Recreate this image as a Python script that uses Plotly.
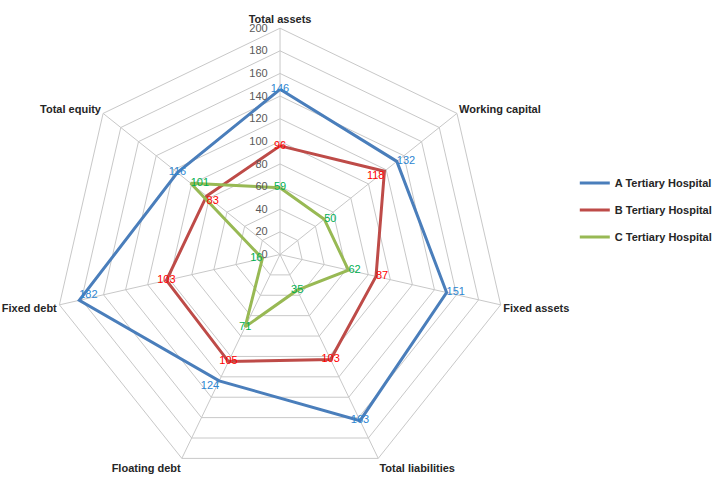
import plotly.graph_objects as go

categories = ["Total assets", "Working capital", "Fixed assets", "Total liabilities",
              "Floating debt", "Fixed debt", "Total equity"]
series_names = ["A Tertiary Hospital", "B Tertiary Hospital", "C Tertiary Hospital"]
a_values = [146, 132, 151, 163, 124, 182, 116]
b_values = [96, 118, 87, 103, 105, 103, 83]
c_values = [59, 50, 62, 35, 71, 16, 101]
radial_ticks = [0, 20, 40, 60, 80, 100, 120, 140, 160, 180, 200]

line_colors = ["#4A7EBB", "#BE4B48", "#98B954"]
label_colors = ["#2E86D1", "#FF0000", "#00B050"]
label_positions = [
    ["middle center", "middle right", "middle right", "middle center", "bottom left", "top right", "middle center"],
    ["middle center", "bottom left", "middle right", "middle center", "middle center", "middle center", "bottom right"],
    ["middle center", "middle right", "middle right", "middle center", "middle center", "middle left", "middle right"],
]

fig = go.Figure()
all_values = [a_values, b_values, c_values]
for i, (name, vals) in enumerate(zip(series_names, all_values)):
    fig.add_trace(go.Scatterpolar(
        r=vals + [vals[0]], theta=categories + [categories[0]],
        mode="lines", name=name, legendgroup=name,
        line=dict(color=line_colors[i], width=3),
        hoverinfo="skip",
    ))
for i, (name, vals) in enumerate(zip(series_names, all_values)):
    fig.add_trace(go.Scatterpolar(
        r=vals, theta=categories, mode="text",
        text=[str(v) for v in vals], textposition=label_positions[i],
        textfont=dict(color=label_colors[i], size=11, family="Liberation Sans"),
        showlegend=False, hoverinfo="skip",
    ))

cx = 284
fig.update_layout(
    width=717, height=484,
    margin=dict(l=0, r=0, t=0, b=0),
    paper_bgcolor="white",
    font=dict(family="Liberation Sans", size=10, color="#404040"),
    polar=dict(
        domain=dict(x=[(cx - 229.5) / 717, (cx + 229.5) / 717], y=[0, 1 - 25 / 484]),
        bgcolor="white",
        gridshape="linear",
        radialaxis=dict(
            range=[0, 200], tickvals=radial_ticks, angle=90, tickangle=90,
            side="counterclockwise",
            showline=False, gridcolor="#C8C8C8", gridwidth=1,
            tickfont=dict(size=11, color="#595959"),
            ticks="outside", ticklen=8, tickcolor="rgba(0,0,0,0)",
        ),
        angularaxis=dict(
            rotation=90, direction="clockwise",
            showline=True, linecolor="#C8C8C8", gridcolor="#C8C8C8",
            ticks="", tickfont=dict(size=11, color="#262626", weight="bold"),
        ),
    ),
    legend=dict(
        x=0.813, y=0.566, xanchor="left", yanchor="middle",
        font=dict(size=11, color="#262626", weight="bold"),
        tracegroupgap=8, bgcolor="rgba(0,0,0,0)",
    ),
)

fig.write_html("out.html")
